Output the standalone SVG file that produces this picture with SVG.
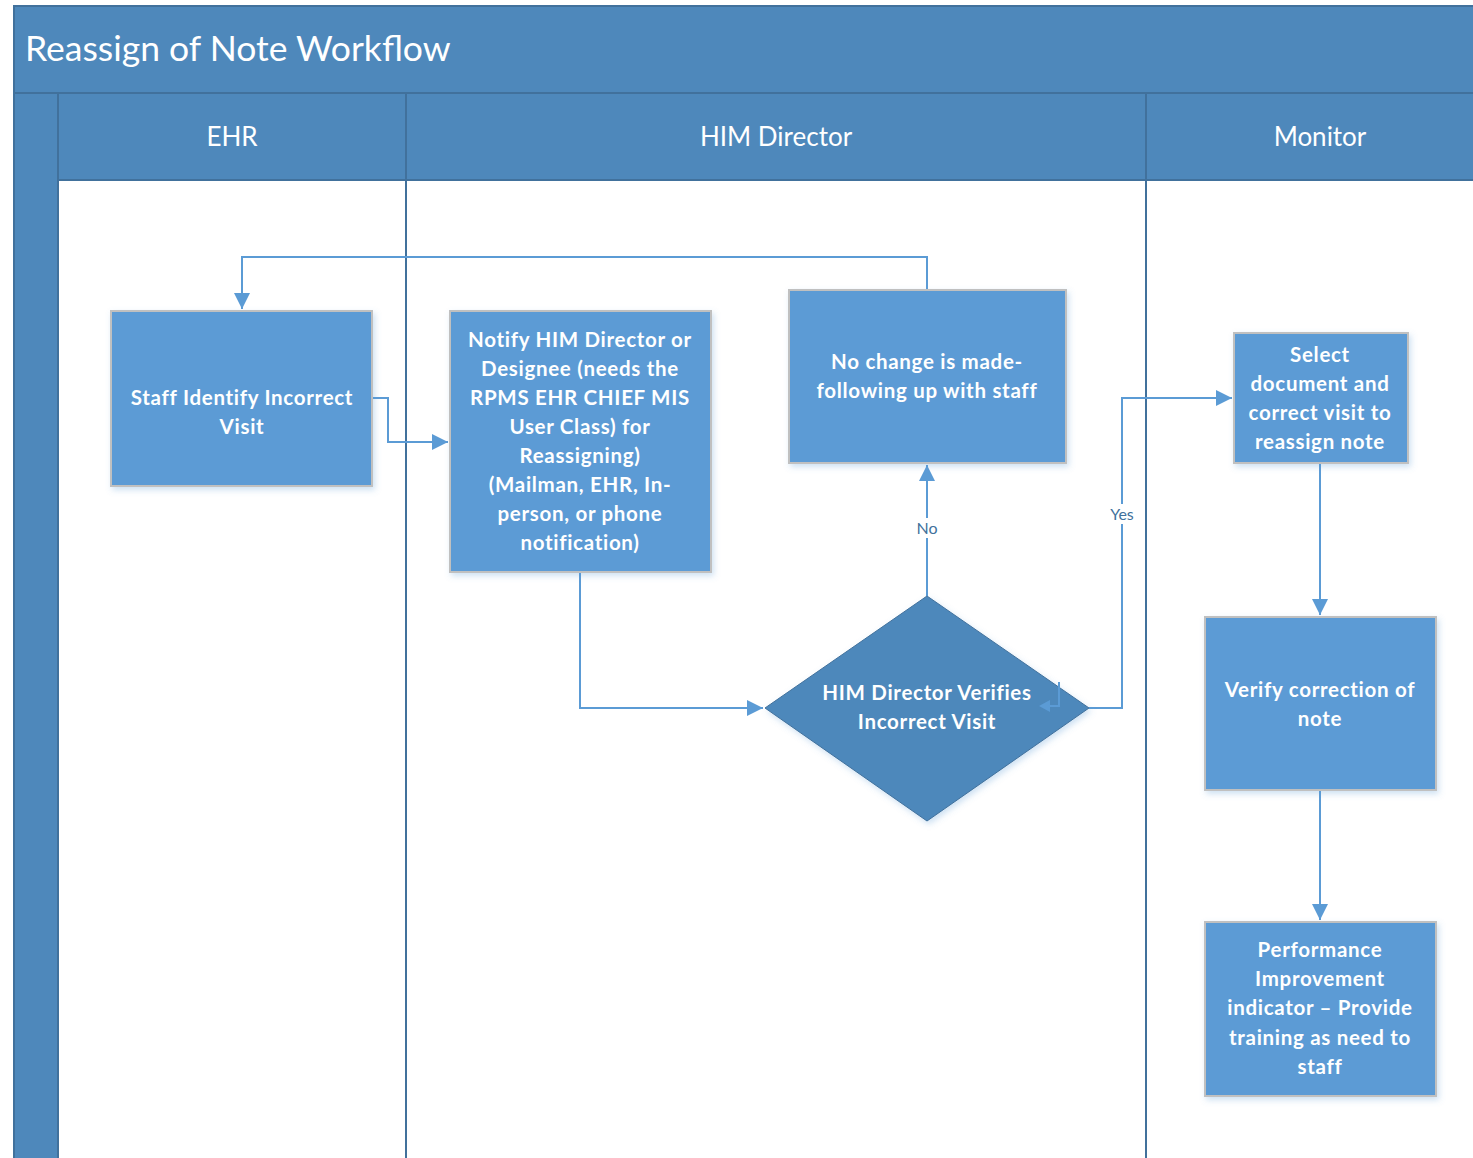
<svg xmlns="http://www.w3.org/2000/svg" width="1473" height="1158" viewBox="0 0 1473 1158">
<style>
.band{fill:#4e88bb;stroke:#41719c;stroke-width:2}
.lane{fill:none;stroke:#41719c;stroke-width:2}
.title{font-family:Lato,"Open Sans",sans-serif;font-size:35.5px;fill:#fff}
.hdr{font-family:Lato,"Open Sans",sans-serif;font-size:26px;fill:#fff;text-anchor:middle}
.box{fill:#5b9bd5;stroke:#c0c0c0;stroke-width:2;filter:url(#sh)}
.dia{fill:#4e88bb;stroke:#41719c;stroke-width:1;filter:url(#sh)}
.nt{font-family:Lato,"Open Sans",sans-serif;font-size:20.5px;font-weight:bold;fill:#fff;text-anchor:middle;letter-spacing:0.7px}
.c{fill:none;stroke:#5b9bd5;stroke-width:2}
.lbl{font-family:Lato,"Open Sans",sans-serif;font-size:16px;fill:#41719c;text-anchor:middle}
</style>
<defs>
<marker id="ahb" viewBox="0 0 10 10" refX="10" refY="5" markerWidth="16" markerHeight="16" markerUnits="userSpaceOnUse" orient="auto">
<path d="M0,0 L10,5 L0,10 z" fill="#5b9bd5"/>
</marker>
<filter id="sh" x="-10%" y="-10%" width="130%" height="130%">
<feDropShadow dx="2" dy="3" stdDeviation="3" flood-color="#5b9bd5" flood-opacity="0.3"/>
</filter>
</defs>
<rect width="1473" height="1158" fill="#fff"/>
<g id="pool">
<rect class="band" x="14" y="6" width="1470" height="87"/>
<text class="title" x="25" y="61">Reassign of Note Workflow</text>
<rect class="band" x="14" y="93" width="44" height="1070"/>
<rect class="band" x="58" y="93" width="348" height="87"/>
<rect class="band" x="406" y="93" width="740" height="87"/>
<rect class="band" x="1146" y="93" width="340" height="87"/>
<text class="hdr" x="232" y="146">EHR</text>
<text class="hdr" x="776" y="146">HIM Director</text>
<text class="hdr" x="1320" y="146">Monitor</text>
<line class="lane" x1="406" y1="180" x2="406" y2="1160"/>
<line class="lane" x1="1146" y1="180" x2="1146" y2="1160"/>
</g>
<g id="connectors">
<path class="c" d="M927,290 V257 H242 V309" marker-end="url(#ahb)"/>
<path class="c" d="M372,398 H388 V442 H448" marker-end="url(#ahb)"/>
<path class="c" d="M580,572 V708 H763" marker-end="url(#ahb)"/>
<path class="c" d="M927,596 V465" marker-end="url(#ahb)"/>
<path class="c" d="M1089,708 H1122 V398 H1232" marker-end="url(#ahb)"/>
<path class="c" d="M1320,463 V615" marker-end="url(#ahb)"/>
<path class="c" d="M1320,790 V920" marker-end="url(#ahb)"/>
<rect x="912" y="518" width="30" height="20" fill="#fff"/>
<text class="lbl" x="927" y="534">No</text>
<rect x="1106" y="504" width="32" height="20" fill="#fff"/>
<text class="lbl" x="1122" y="520">Yes</text>
</g>
<g id="n1">
<rect class="box" x="111" y="311" width="261" height="175"/>
<text class="nt" x="242" y="405">Staff Identify Incorrect</text>
<text class="nt" x="242" y="434">Visit</text>
</g>
<g id="n2">
<rect class="box" x="450" y="311" width="261" height="261"/>
<text class="nt" x="580" y="347">Notify HIM Director or</text>
<text class="nt" x="580" y="376">Designee (needs the</text>
<text class="nt" x="580" y="405">RPMS EHR CHIEF MIS</text>
<text class="nt" x="580" y="434">User Class) for</text>
<text class="nt" x="580" y="463">Reassigning)</text>
<text class="nt" x="580" y="492">(Mailman, EHR, In-</text>
<text class="nt" x="580" y="521">person, or phone</text>
<text class="nt" x="580" y="550">notification)</text>
</g>
<g id="n3">
<rect class="box" x="789" y="290" width="277" height="173"/>
<text class="nt" x="927" y="369">No change is made-</text>
<text class="nt" x="927" y="398">following up with staff</text>
</g>
<g id="n4">
<polygon class="dia" points="927,596 1089,708 927,821 765,708"/>
<text class="nt" x="927" y="700">HIM Director Verifies</text>
<text class="nt" x="927" y="729">Incorrect Visit</text>
<path d="M1059,682 V706 H1048" fill="none" stroke="#5b9bd5" stroke-width="2"/>
<path d="M1039,706 L1050,700 L1050,712 z" fill="#5b9bd5"/>
</g>
<g id="n5">
<rect class="box" x="1234" y="333" width="174" height="130"/>
<text class="nt" x="1320" y="362">Select</text>
<text class="nt" x="1320" y="391">document and</text>
<text class="nt" x="1320" y="420">correct visit to</text>
<text class="nt" x="1320" y="449">reassign note</text>
</g>
<g id="n6">
<rect class="box" x="1205" y="617" width="231" height="173"/>
<text class="nt" x="1320" y="697">Verify correction of</text>
<text class="nt" x="1320" y="726">note</text>
</g>
<g id="n7">
<rect class="box" x="1205" y="922" width="231" height="174"/>
<text class="nt" x="1320" y="957">Performance</text>
<text class="nt" x="1320" y="986">Improvement</text>
<text class="nt" x="1320" y="1015">indicator – Provide</text>
<text class="nt" x="1320" y="1045">training as need to</text>
<text class="nt" x="1320" y="1074">staff</text>
</g>
</svg>
